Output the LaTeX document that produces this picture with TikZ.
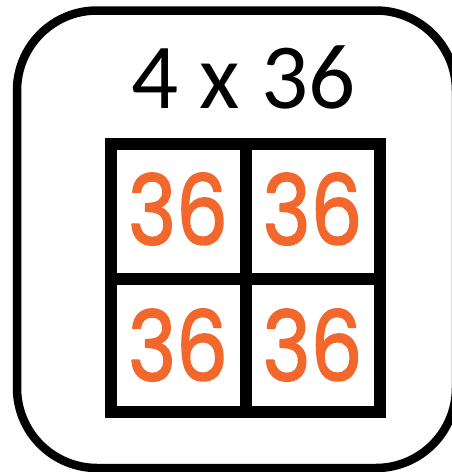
\documentclass[tikz,border=0pt]{standalone}
\usepackage{fontspec}
\setmainfont{Carlito}
\newfontfamily\digitfont{Poppins}
\definecolor{numorange}{HTML}{F2672C}
\newcommand{\roundtext}[1]{\special{pdf:literal direct 2 Tr 2 w 1 J 1 j}#1\special{pdf:literal direct 0 Tr}}
\begin{document}
\begin{tikzpicture}[x=1pt,y=-1pt,
  frame/.style={line width=8.5pt, rounded corners=80pt},
  gridline/.style={line width=12pt, line cap=rect},
  title/.style={font=\fontsize{93}{93}\selectfont, anchor=base},
  num/.style={font=\digitfont\fontsize{97}{97}\selectfont, text=numorange, inner sep=0pt, xscale=0.84}]
\useasboundingbox (0,0) rectangle (451,472);
\draw[frame] (17,10.5) rectangle (456,468);
\node[title] (t) at (243.5,108) {4 x 36};
\coordinate (tl) at (111,144);
\coordinate (br) at (379.5,412);
\coordinate (mt) at (245.5,144);
\coordinate (mb) at (245.5,412);
\coordinate (ml) at (111,279);
\coordinate (mr) at (379.5,279);
\draw[gridline] (tl) rectangle (br);
\draw[gridline] (mt) -- (mb);
\draw[gridline] (ml) -- (mr);
\node[num] (a) at (178,209) {\roundtext{36}};
\node[num] (b) at (312.5,209) {\roundtext{36}};
\node[num] (c) at (178,345) {\roundtext{36}};
\node[num] (d) at (312.5,345) {\roundtext{36}};
\end{tikzpicture}
\end{document}
